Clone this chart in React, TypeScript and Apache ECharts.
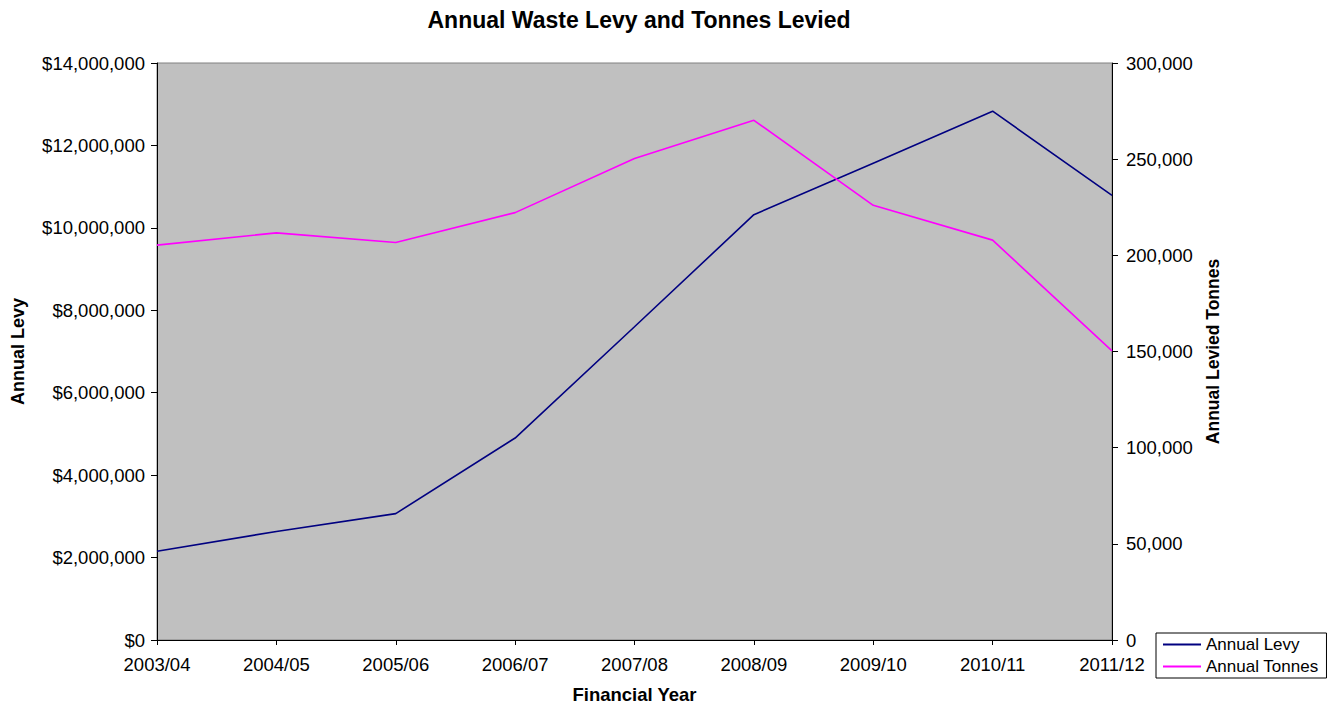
import React, { useEffect, useRef } from "react";
import * as echarts from "echarts";

const categories = ["2003/04", "2004/05", "2005/06", "2006/07", "2007/08", "2008/09", "2009/10", "2010/11", "2011/12"];
const annualLevy = [2152000, 2634000, 3067000, 4900000, 7600000, 10320000, 11570000, 12830000, 10790000];
const annualTonnes = [205300, 211700, 206700, 222200, 250400, 270200, 226000, 207900, 150300];

const FONT = "'Liberation Sans', Arial, sans-serif";

export default function App() {
  const ref = useRef<HTMLDivElement>(null);
  useEffect(() => {
    document.body.style.margin = "0";
    document.body.style.overflow = "hidden";
    if (!ref.current) return;
    const chart = echarts.init(ref.current, undefined, { renderer: "svg" });
    chart.setOption({
      animation: false,
      backgroundColor: "#ffffff",
      textStyle: { fontFamily: FONT },
      title: {
        text: "Annual Waste Levy and Tonnes Levied",
        left: 634,
        textAlign: "center",
        top: 3,
        textStyle: { fontFamily: FONT, fontSize: 23, fontWeight: "bold", color: "#000" },
      },
      grid: {
        left: 157,
        right: 221,
        top: 63,
        bottom: 65,
        show: true,
        backgroundColor: "#C0C0C0",
        borderColor: "#808080",
        borderWidth: 1,
        containLabel: false,
      },
      legend: {
        orient: "vertical",
        left: 1156,
        top: 633,
        padding: [3, 8, 3, 6],
        itemGap: 5,
        itemWidth: 38,
        itemHeight: 16,
        borderColor: "#000",
        borderWidth: 1,
        backgroundColor: "#fff",
        itemStyle: { opacity: 0 },
        textStyle: { fontFamily: FONT, fontSize: 17, color: "#000", padding: [0, 0, 0, 0] },
        data: ["Annual Levy", "Annual Tonnes"],
      },
      xAxis: {
        type: "category",
        data: categories,
        boundaryGap: false,
        name: "Financial Year",
        nameLocation: "middle",
        nameGap: 45,
        nameTextStyle: { fontFamily: FONT, fontSize: 18.5, fontWeight: "bold", color: "#000" },
        axisLine: { lineStyle: { color: "#000", width: 1 } },
        axisTick: { show: true, length: 5, lineStyle: { color: "#000" } },
        axisLabel: { fontFamily: FONT, fontSize: 18.5, color: "#000", margin: 15, showMinLabel: true, showMaxLabel: true, interval: 0 },
        splitLine: { show: false },
      },
      yAxis: [
        {
          type: "value",
          position: "left",
          min: 0,
          max: 14000000,
          interval: 2000000,
          name: "Annual Levy",
          nameLocation: "middle",
          nameGap: 130,
          nameTextStyle: { fontFamily: FONT, fontSize: 18, fontWeight: "bold", color: "#000" },
          axisLine: { show: true, lineStyle: { color: "#000", width: 1 } },
          axisTick: { show: true, length: 6, lineStyle: { color: "#000" } },
          axisLabel: {
            fontFamily: FONT,
            fontSize: 18.5,
            color: "#000",
            margin: 12,
            formatter: (v: number) => "$" + v.toLocaleString("en-US"),
          },
          splitLine: { show: false },
        },
        {
          type: "value",
          position: "right",
          min: 0,
          max: 300000,
          interval: 50000,
          name: "Annual Levied Tonnes",
          nameLocation: "middle",
          nameGap: 92,
          nameTextStyle: { fontFamily: FONT, fontSize: 17.5, fontWeight: "bold", color: "#000" },
          axisLine: { show: true, lineStyle: { color: "#000", width: 1 } },
          axisTick: { show: true, length: 6, lineStyle: { color: "#000" } },
          axisLabel: {
            fontFamily: FONT,
            fontSize: 18.5,
            color: "#000",
            margin: 14,
            formatter: (v: number) => v.toLocaleString("en-US"),
          },
          splitLine: { show: false },
        },
      ],
      series: [
        {
          name: "Annual Levy",
          type: "line",
          yAxisIndex: 0,
          data: annualLevy,
          symbol: "none",
          lineStyle: { color: "#000080", width: 1.6 },
          itemStyle: { color: "#000080" },
        },
        {
          name: "Annual Tonnes",
          type: "line",
          yAxisIndex: 1,
          data: annualTonnes,
          symbol: "none",
          lineStyle: { color: "#FF00FF", width: 1.6 },
          itemStyle: { color: "#FF00FF" },
        },
      ],
    });
    return () => chart.dispose();
  }, []);
  return <div ref={ref} style={{ width: 1333, height: 709 }} />;
}
